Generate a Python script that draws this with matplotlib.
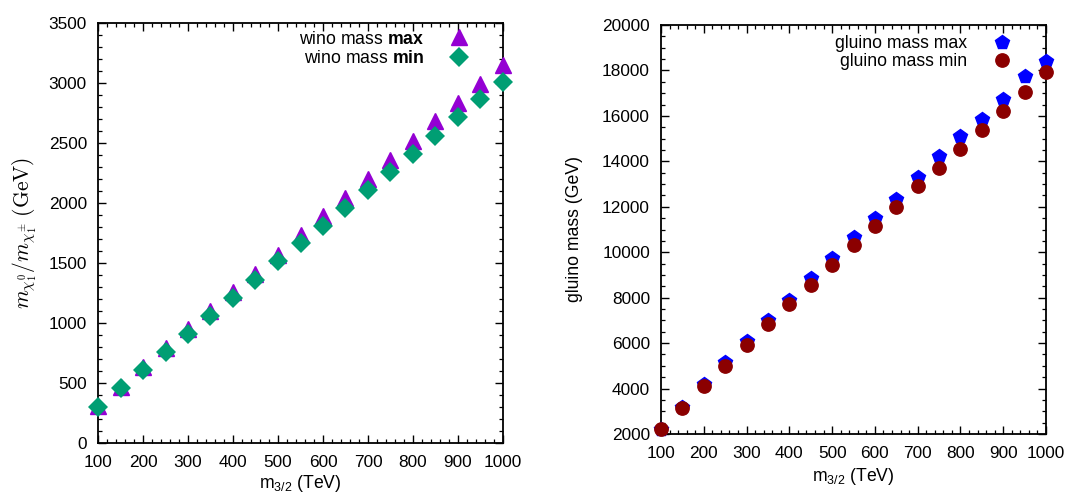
import matplotlib
matplotlib.use("Agg")
import matplotlib.pyplot as plt
from matplotlib.ticker import MultipleLocator
from matplotlib.font_manager import FontProperties

plt.rcParams['font.family'] = ['Liberation Sans', 'DejaVu Sans']
plt.rcParams['mathtext.fontset'] = 'custom'
plt.rcParams['mathtext.rm'] = 'Liberation Sans'
plt.rcParams['mathtext.it'] = 'Liberation Sans:italic'
plt.rcParams['mathtext.bf'] = 'Liberation Sans:bold'

# ---- data ----
m32 = [100, 150, 200, 250, 300, 350, 400, 450, 500, 550, 600, 650, 700, 750, 800, 850, 900, 950, 1000]
wino_max = [310, 470, 630, 790, 950, 1100, 1260, 1410, 1570, 1730, 1890, 2040, 2200, 2360, 2520, 2680, 2830, 2990, 3150]
wino_min = [300, 455, 605, 760, 905, 1060, 1210, 1360, 1520, 1665, 1810, 1960, 2110, 2260, 2410, 2560, 2715, 2865, 3010]
gluino_max = [2200, 3200, 4200, 5150, 6100, 7000, 7900, 8850, 9750, 10650, 11500, 12350, 13300, 14250, 15100, 15850, 16750, 17750, 18400]
gluino_min = [2200, 3150, 4100, 5000, 5900, 6850, 7700, 8550, 9450, 10300, 11150, 12000, 12900, 13700, 14550, 15400, 16200, 17050, 17950]

label_wino_max = r"wino mass $\mathbf{max}$"
label_wino_min = r"wino mass $\mathbf{min}$"
label_gl_max = "gluino mass max"
label_gl_min = "gluino mass min"
xlabel = r"m$_{\mathregular{3/2}}$ (TeV)"
ylabel_left = r"$m_{\chi_1^0}/m_{\chi_1^{\pm}}\;(\mathrm{GeV})$"
ylabel_right = "gluino mass (GeV)"

FS = 12.4
LFS = 12.7
fig = plt.figure(figsize=(10.89, 4.95), dpi=100)
ax1 = fig.add_axes([98/1089, 1-443/495, 405/1089, 420/495])
ax2 = fig.add_axes([661/1089, 1-434/495, 385/1089, 409/495])

def style(ax, xmin, xmaj, ymaj, ymin):
    ax.xaxis.set_major_locator(MultipleLocator(xmaj))
    ax.xaxis.set_minor_locator(MultipleLocator(xmin))
    ax.yaxis.set_major_locator(MultipleLocator(ymaj))
    ax.yaxis.set_minor_locator(MultipleLocator(ymin))
    ax.tick_params(which='both', direction='in', top=True, right=True, labelsize=FS, color='black')
    ax.tick_params(which='major', length=6, width=1.0)
    ax.tick_params(which='minor', length=3, width=0.9)
    ax.tick_params(axis='x', which='major', pad=8.5)
    ax.tick_params(axis='y', which='major', pad=8)
    for s in ax.spines.values():
        s.set_linewidth(1.3)

# Left panel
ax1.plot(m32, wino_max, linestyle='none', marker='^', ms=11, color='#9400D3', mec='#9400D3', clip_on=False, label=label_wino_max, zorder=3)
ax1.plot(m32, wino_min, linestyle='none', marker='D', ms=10.5, color='#009E73', mec='#009E73', mew=0, clip_on=False, label=label_wino_min, zorder=4)
ax1.set_xlim(100, 1000)
ax1.set_ylim(0, 3500)
style(ax1, 20, 100, 500, 100)
ax1.set_xlabel(xlabel, fontsize=LFS, labelpad=2)
ax1.set_ylabel(ylabel_left, fontsize=15.5, labelpad=6.5, math_fontfamily='cm')
ax1.legend(loc='upper right', bbox_to_anchor=(0.925, 0.982), frameon=False, markerfirst=False,
           prop=FontProperties(family='Liberation Sans', size=LFS, math_fontfamily='custom'),
           handlelength=1.5, handletextpad=1.25, borderaxespad=0, borderpad=0, labelspacing=0.12,
           numpoints=1)

# Right panel
ax2.plot(m32, gluino_max, linestyle='none', marker='p', ms=10.6, color='#0000FF', mec='#0000FF', clip_on=False, label=label_gl_max, zorder=3)
ax2.plot(m32, gluino_min, linestyle='none', marker='o', ms=9.6, color='#8B0000', mec='#8B0000', clip_on=False, label=label_gl_min, zorder=4)
ax2.set_xlim(100, 1000)
ax2.set_ylim(2000, 20000)
style(ax2, 20, 100, 2000, 500)
ax2.set_xlabel(xlabel, fontsize=LFS, labelpad=4)
ax2.set_ylabel(ylabel_right, fontsize=LFS, labelpad=14)
ax2.legend(loc='upper right', bbox_to_anchor=(0.92, 0.975), frameon=False, markerfirst=False,
           prop=FontProperties(family='Liberation Sans', size=LFS),
           handlelength=1.5, handletextpad=1.25, borderaxespad=0, borderpad=0, labelspacing=0.05,
           numpoints=1)

fig.savefig("out.png", dpi=100)
